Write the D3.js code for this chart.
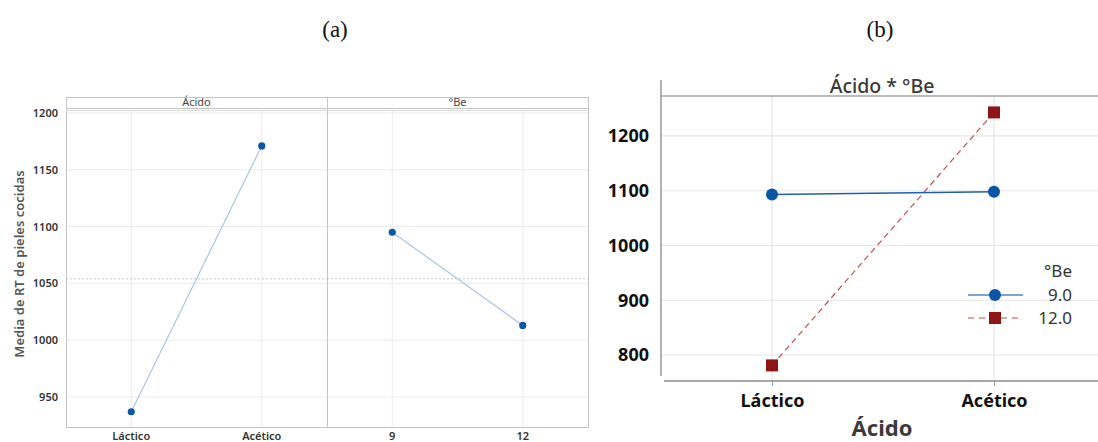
<!DOCTYPE html>
<html>
<head>
<meta charset="utf-8">
<script src="https://cdn.jsdelivr.net/npm/d3@7"></script>
<style>
  body { margin: 0; background: #fff; }
  svg { display: block; }
</style>
</head>
<body>
<svg id="chart" width="1098" height="442"></svg>
<script>
// main effects (a)
var acidos = ["Láctico", "Acético"];
var acidoMeans = [937, 1171];
var grados = ["9", "12"];
var gradoMeans = [1095, 1013];
var grandMean = 1054;
var yTicksA = [950, 1000, 1050, 1100, 1150, 1200];

// interaction (b)
var serieLabels = ["9.0", "12.0"];
var serie9 = [1093, 1098];
var serie12 = [781, 1243];
var yTicksB = [800, 900, 1000, 1100, 1200];

var svg = d3.select("#chart");
var font = "'Noto Sans', 'Open Sans', sans-serif";

// captions
svg.append("text").attr("x", 335).attr("y", 37).attr("text-anchor", "middle")
  .attr("font-family", "'Liberation Serif', serif").attr("font-size", 23).attr("fill", "#111").text("(a)");
svg.append("text").attr("x", 880).attr("y", 37).attr("text-anchor", "middle")
  .attr("font-family", "'Liberation Serif', serif").attr("font-size", 23).attr("fill", "#111").text("(b)");

// ---------- panel (a) ----------
var aLeft = 66, aMid = 327, aRight = 588, aTop = 97, stripB = 110, aBottom = 427;

var yA = d3.scaleLinear().domain([923.6, 1202.6]).range([aBottom, stripB]);

var panels = [
  { name: "Ácido", cats: acidos, vals: acidoMeans, x0: aLeft, x1: aMid },
  { name: "°Be", cats: grados, vals: gradoMeans, x0: aMid, x1: aRight }
];

var ga = svg.append("g");

// horizontal grid
ga.selectAll(".hg").data(yTicksA).enter().append("line")
  .attr("x1", aLeft).attr("x2", aRight)
  .attr("y1", function (d) { return yA(d); }).attr("y2", function (d) { return yA(d); })
  .attr("stroke", "#ececec").attr("stroke-width", 1);

panels.forEach(function (p) {
  var x = d3.scalePoint().domain(p.cats).range([p.x0, p.x1]).padding(0.5);

  // vertical grid
  ga.selectAll(null).data(p.cats).enter().append("line")
    .attr("x1", function (d) { return x(d); }).attr("x2", function (d) { return x(d); })
    .attr("y1", stripB).attr("y2", aBottom)
    .attr("stroke", "#ececec");

  // mean reference line
  ga.append("line").attr("x1", p.x0).attr("x2", p.x1)
    .attr("y1", yA(grandMean)).attr("y2", yA(grandMean))
    .attr("stroke", "#c8c8c8").attr("stroke-dasharray", "2,2");

  var pts = p.cats.map(function (c, i) { return [x(c), yA(p.vals[i])]; });
  ga.append("path").datum(pts)
    .attr("d", d3.line())
    .attr("fill", "none").attr("stroke", "#a9c4e2").attr("stroke-width", 1.2);
  ga.selectAll(null).data(pts).enter().append("circle")
    .attr("cx", function (d) { return d[0]; }).attr("cy", function (d) { return d[1]; })
    .attr("r", 3.6).attr("fill", "#0b57a6");

  // strip header
  ga.append("text").attr("x", (p.x0 + p.x1) / 2).attr("y", 106).attr("text-anchor", "middle")
    .attr("font-family", font).attr("font-size", 11).attr("fill", "#444").text(p.name);

  // x tick labels
  ga.selectAll(null).data(p.cats).enter().append("text")
    .attr("x", function (d) { return x(d); }).attr("y", 440).attr("text-anchor", "middle")
    .attr("font-family", font).attr("font-size", 11).attr("font-weight", 600).attr("fill", "#333")
    .text(function (d) { return d; });
});

// frame + strip lines
ga.append("rect").attr("x", aLeft + 0.5).attr("y", aTop + 0.5).attr("width", aRight - aLeft).attr("height", aBottom - aTop)
  .attr("fill", "none").attr("stroke", "#c4c4c4");
ga.append("line").attr("x1", aLeft).attr("x2", aRight).attr("y1", 108.5).attr("y2", 108.5).attr("stroke", "#c4c4c4");
ga.append("line").attr("x1", aLeft).attr("x2", aRight).attr("y1", 110.5).attr("y2", 110.5).attr("stroke", "#dcdcdc");
ga.append("line").attr("x1", aMid + 0.5).attr("x2", aMid + 0.5).attr("y1", aTop).attr("y2", aBottom).attr("stroke", "#c4c4c4");

// y axis (a)
ga.append("g").attr("transform", "translate(" + aLeft + ",0)")
  .call(d3.axisLeft(yA).tickValues(yTicksA).tickFormat(d3.format("d")).tickSize(0).tickPadding(8))
  .call(function (g) { g.select(".domain").remove(); })
  .selectAll("text").attr("font-family", font).attr("font-size", 11).attr("font-weight", 600).attr("fill", "#333");

ga.append("text").attr("transform", "translate(24,264) rotate(-90)").attr("text-anchor", "middle")
  .attr("font-family", font).attr("font-size", 13).attr("font-weight", 600).attr("fill", "#555")
  .text("Media de RT de pieles cocidas");

// ---------- panel (b) ----------
var bLeft = 661, bRight = 1098, bTop = 96, bBottom = 381;
var yB = d3.scaleLinear().domain([752.5, 1273]).range([bBottom, bTop]);
var xB = d3.scalePoint().domain(acidos).range([661, 1105]).padding(0.5);

var gb = svg.append("g");

gb.selectAll(null).data(yTicksB).enter().append("line")
  .attr("x1", bLeft).attr("x2", bRight)
  .attr("y1", function (d) { return yB(d); }).attr("y2", function (d) { return yB(d); })
  .attr("stroke", "#e6e6e6").attr("stroke-width", 1.2);
gb.selectAll(null).data(acidos).enter().append("line")
  .attr("x1", function (d) { return xB(d); }).attr("x2", function (d) { return xB(d); })
  .attr("y1", bTop).attr("y2", bBottom)
  .attr("stroke", "#e6e6e6").attr("stroke-width", 1.2);

// axes lines
gb.append("line").attr("x1", bLeft).attr("x2", bRight).attr("y1", bTop).attr("y2", bTop).attr("stroke", "#777");
gb.append("line").attr("x1", bLeft).attr("x2", bLeft).attr("y1", 80).attr("y2", 376).attr("stroke", "#999").attr("stroke-width", 1.5);

gb.append("g").attr("transform", "translate(0," + bBottom + ")")
  .call(d3.axisBottom(xB).tickSize(5).tickPadding(8))
  .call(function (g) {
    g.select(".domain").attr("d", "M664,0H1098").attr("stroke", "#888").attr("stroke-width", 1.5);
    g.selectAll(".tick line").attr("stroke", "#999");
  })
  .selectAll("text").attr("font-family", font).attr("font-size", 18).attr("font-weight", 700).attr("fill", "#111");

gb.append("g").attr("transform", "translate(" + bLeft + ",0)")
  .call(d3.axisLeft(yB).tickValues(yTicksB).tickFormat(d3.format("d")).tickSize(0).tickPadding(12))
  .call(function (g) { g.select(".domain").remove(); })
  .selectAll("text").attr("font-family", font).attr("font-size", 18).attr("font-weight", 700).attr("fill", "#111");

// title and x title
gb.append("text").attr("x", 882).attr("y", 93).attr("text-anchor", "middle")
  .attr("font-family", font).attr("font-size", 19.5).attr("font-weight", 500).attr("fill", "#3a3a3a")
  .text("Ácido * °Be");
gb.append("text").attr("x", 882).attr("y", 436).attr("text-anchor", "middle")
  .attr("font-family", font).attr("font-size", 22).attr("font-weight", 700).attr("fill", "#3a3a3a")
  .text("Ácido");

// series
var line = d3.line().x(function (d, i) { return xB(acidos[i]); }).y(function (d) { return yB(d); });

gb.append("path").datum(serie12).attr("d", line)
  .attr("fill", "none").attr("stroke", "#c0504d").attr("stroke-width", 1.2).attr("stroke-dasharray", "6,4");
gb.append("path").datum(serie9).attr("d", line)
  .attr("fill", "none").attr("stroke", "#1f5fae").attr("stroke-width", 1.6);

gb.selectAll(".c9").data(serie9).enter().append("circle")
  .attr("cx", function (d, i) { return xB(acidos[i]); }).attr("cy", function (d) { return yB(d); })
  .attr("r", 6).attr("fill", "#0b55a5");
gb.selectAll(".s12").data(serie12).enter().append("rect")
  .attr("x", function (d, i) { return xB(acidos[i]) - 6; }).attr("y", function (d) { return yB(d) - 6; })
  .attr("width", 12).attr("height", 12).attr("fill", "#8e1515");

// legend
var lg = gb.append("g");
lg.append("text").attr("x", 1072).attr("y", 277).attr("text-anchor", "end")
  .attr("font-family", font).attr("font-size", 17).attr("fill", "#333").text("°Be");
var rows = [
  { label: serieLabels[0], y: 295 },
  { label: serieLabels[1], y: 318 }
];
lg.append("line").attr("x1", 968).attr("x2", 1023).attr("y1", rows[0].y).attr("y2", rows[0].y)
  .attr("stroke", "#4f86c6").attr("stroke-width", 1.5);
lg.append("circle").attr("cx", 995).attr("cy", rows[0].y).attr("r", 6).attr("fill", "#0b55a5");
lg.append("line").attr("x1", 968).attr("x2", 1023).attr("y1", rows[1].y).attr("y2", rows[1].y)
  .attr("stroke", "#d08a88").attr("stroke-width", 1.5).attr("stroke-dasharray", "6,5");
lg.append("rect").attr("x", 989).attr("y", rows[1].y - 6).attr("width", 12).attr("height", 12).attr("fill", "#8e1515");
rows.forEach(function (r) {
  lg.append("text").attr("x", 1072).attr("y", r.y + 6).attr("text-anchor", "end")
    .attr("font-family", font).attr("font-size", 17).attr("fill", "#333").text(r.label);
});
</script>
</body>
</html>
